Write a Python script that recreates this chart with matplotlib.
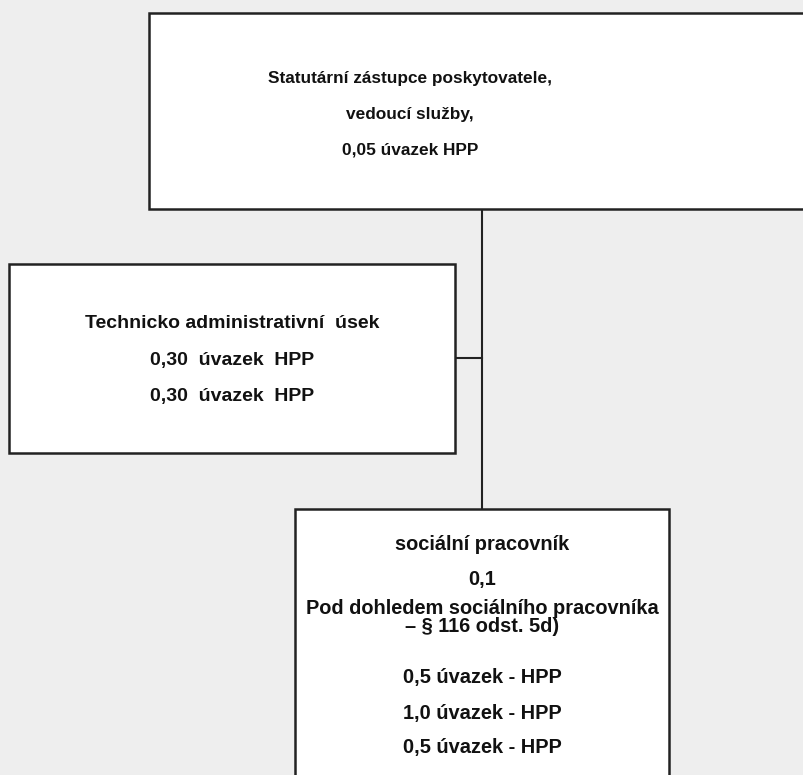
import matplotlib.pyplot as plt
from matplotlib.patches import Rectangle

# org chart boxes: (left, top, right, bottom) in pixel units of the picture
box_names = ["vedeni", "usek", "pracovnik"]
box_left = [149, 9, 295]
box_top = [13, 264, 509]
box_right = [830, 455, 669]
box_bottom = [209, 453, 800]

# text lines per box: (text, y centre)
texts_top = ["Statutární zástupce poskytovatele,", "vedoucí služby,", "0,05 úvazek HPP"]
texts_top_y = [78, 115, 150]
texts_top_x = 410

texts_left = ["Technicko administrativní  úsek", "0,30  úvazek  HPP", "0,30  úvazek  HPP"]
texts_left_y = [324, 361, 396]

texts_bottom = ["sociální pracovník", "0,1", "Pod dohledem sociálního pracovníka",
                "– § 116 odst. 5d)", "0,5 úvazek - HPP", "1,0 úvazek - HPP", "0,5 úvazek - HPP"]
texts_bottom_y = [544, 580, 608, 626, 678, 713, 748]

# connectors
trunk_x = 482
branch_y = 358

bg = "#eeeeee"
edge = "#222222"
fonts = ["Liberation Sans", "DejaVu Sans"]

fig = plt.figure(figsize=(8.04, 7.75), dpi=100, facecolor=bg)
ax = fig.add_axes([0, 0, 1, 1])
ax.set_xlim(0, 804)
ax.set_ylim(775, 0)
ax.set_facecolor(bg)
ax.axis('off')

# lines first so boxes sit on top
ax.plot([trunk_x, trunk_x], [box_bottom[0], box_top[2]], color=edge, lw=1.5, zorder=1)
ax.plot([box_right[1], trunk_x], [branch_y, branch_y], color=edge, lw=1.5, zorder=1)

for i in range(len(box_names)):
    r = Rectangle((box_left[i], box_top[i]), box_right[i] - box_left[i],
                  box_bottom[i] - box_top[i], facecolor="white", edgecolor=edge,
                  lw=1.8, zorder=2)
    ax.add_patch(r)

for t, y in zip(texts_top, texts_top_y):
    ax.text(texts_top_x, y, t, ha='center', va='center', fontsize=12.4,
            fontweight='bold', family=fonts, color="#111111", zorder=3)

cx = (box_left[1] + box_right[1]) / 2
for t, y in zip(texts_left, texts_left_y):
    ax.text(cx, y, t, ha='center', va='center', fontsize=14,
            fontweight='bold', family=fonts, color="#111111", zorder=3)

cx = (box_left[2] + box_right[2]) / 2
for t, y in zip(texts_bottom, texts_bottom_y):
    ax.text(cx, y, t, ha='center', va='center', fontsize=14.4,
            fontweight='bold', family=fonts, color="#111111", zorder=3)

plt.savefig("out.png", dpi=100, facecolor=bg)
